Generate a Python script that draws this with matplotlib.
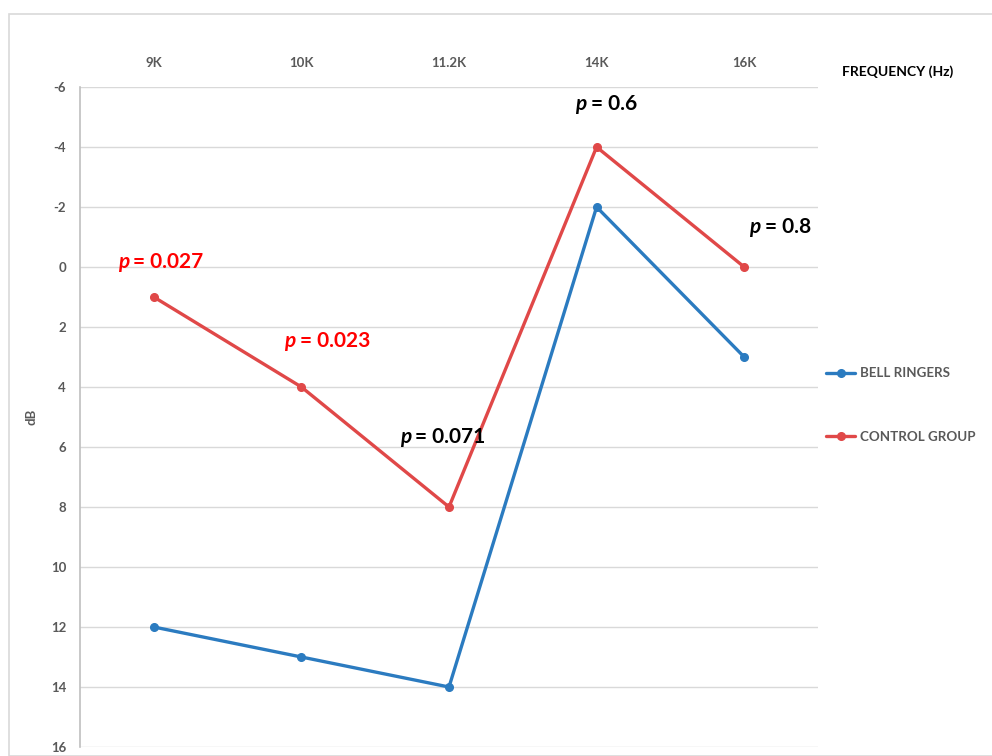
import matplotlib
matplotlib.use("Agg")
import matplotlib.pyplot as plt
from matplotlib.patches import Rectangle

frequencies = ["9K", "10K", "11.2K", "14K", "16K"]
bell_ringers = [12, 13, 14, -2, 3]
control_group = [1, 4, 8, -4, 0]
p_labels = ["0.027", "0.023", "0.071", "0.6", "0.8"]
p_colors = ["#FF0000", "#FF0000", "#000000", "#000000", "#000000"]
# anchor position of each p-value label (x in category units, y in dB)
p_anchor_x = [-0.15, 0.98, 1.76, 2.95, 4.13]
p_anchor_y = [-0.17, 2.47, 5.67, -5.43, -1.33]
y_ticks = list(range(-6, 17, 2))

plt.rcParams["font.family"] = ["Lato", "DejaVu Sans"]

BLUE = "#2B7BC0"
RED = "#E04848"
GREY = "#595959"

fig = plt.figure(figsize=(9.92, 7.56), dpi=100)
fig.patches.append(Rectangle((9 / 992, 0), 1.0, 1 - 14 / 756, transform=fig.transFigure,
                             fill=False, edgecolor="#D9D9D9", linewidth=1.2))

ax = fig.add_axes([80 / 992, 1 - 747 / 756, 738 / 992, 660 / 756])
x = list(range(len(frequencies)))

ax.plot(x, bell_ringers, color=BLUE, lw=2.4, marker="o", ms=5.5, label="BELL RINGERS",
        solid_capstyle="round", zorder=3)
ax.plot(x, control_group, color=RED, lw=2.4, marker="o", ms=5.5, label="CONTROL GROUP",
        solid_capstyle="round", zorder=3)

ax.set_xlim(-0.5, len(frequencies) - 0.5)
ax.set_ylim(16, -6)
ax.set_yticks(y_ticks)
ax.set_yticklabels([str(v) for v in y_ticks], fontsize=9.5, fontweight="bold", color=GREY)
ax.yaxis.grid(True, color="#D9D9D9", lw=1.0)
ax.set_axisbelow(True)

ax.xaxis.tick_top()
ax.set_xticks(x)
ax.set_xticklabels(frequencies, fontsize=9.5, fontweight="bold", color=GREY)
ax.tick_params(axis="x", length=0, pad=13)
ax.tick_params(axis="y", length=0, pad=10)

for side in ["top", "right", "bottom"]:
    ax.spines[side].set_visible(False)
ax.spines["left"].set_color("#BFBFBF")
ax.spines["left"].set_linewidth(1.2)

ax.set_ylabel("dB", fontsize=9.5, fontweight="bold", color=GREY)
ax.yaxis.set_label_coords((37 - 80) / 738, 0.5)

for lbl, col, ax_x, ax_y in zip(p_labels, p_colors, p_anchor_x, p_anchor_y):
    ax.annotate("p", xy=(ax_x, ax_y), xytext=(-2, 0), textcoords="offset points",
                ha="right", va="center", fontsize=15, fontweight="bold",
                fontstyle="italic", color=col)
    ax.annotate("= " + lbl, xy=(ax_x, ax_y), xytext=(1, 0), textcoords="offset points",
                ha="left", va="center", fontsize=15, fontweight="bold", color=col)

fig.text(842 / 992, 1 - 72 / 756, "FREQUENCY (Hz)", fontsize=10, fontweight="bold",
         color="#000000", ha="left", va="center")

leg = ax.legend(loc="center left", bbox_to_anchor=(1.0, (747 - 405) / 660), frameon=False,
                fontsize=9.6, labelspacing=3.85, handlelength=2.2, handletextpad=0.35,
                borderaxespad=0.2)
for t in leg.get_texts():
    t.set_color(GREY)
    t.set_fontweight("bold")

fig.savefig("out.png", dpi=100)
